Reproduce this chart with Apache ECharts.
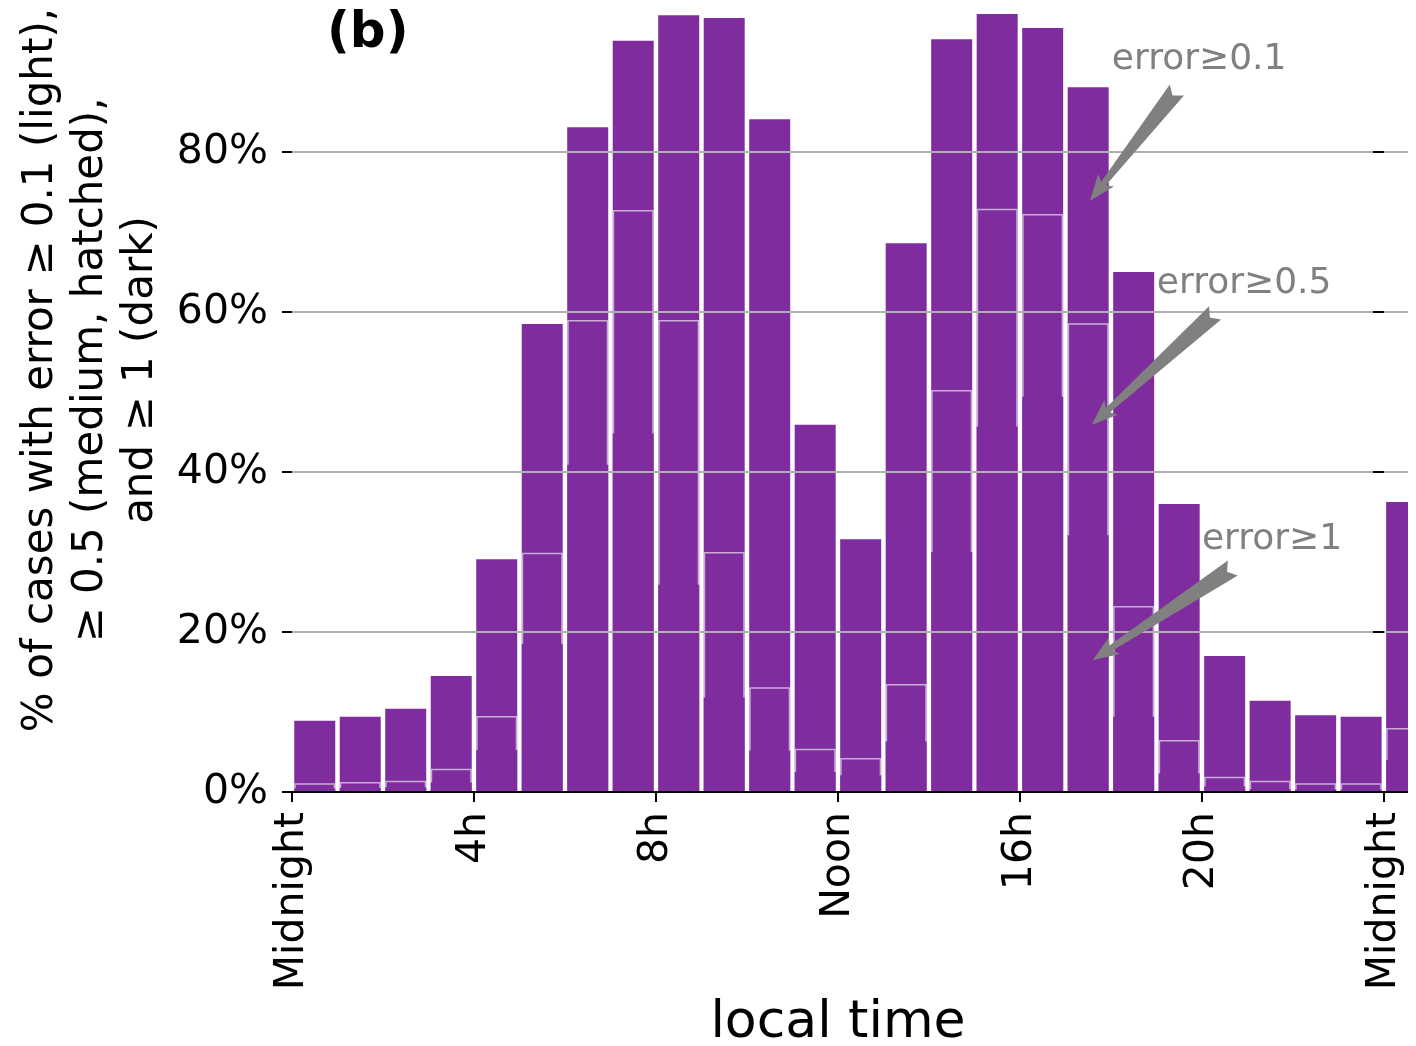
<!DOCTYPE html>
<html>
<head>
<meta charset="utf-8">
<script src="https://cdn.jsdelivr.net/npm/echarts@6/dist/echarts.min.js"></script>
<style>
  html, body { margin: 0; padding: 0; background: #fff; }
  #main { width: 1408px; height: 1046px; }
</style>
</head>
<body>
<div id="main"></div>
<script>
// hour slots (bar centres) and share of cases per error threshold, in %
const hours = [0.5, 1.5, 2.5, 3.5, 4.5, 5.5, 6.5, 7.5, 8.5, 9.5, 10.5, 11.5,
  12.5, 13.5, 14.5, 15.5, 16.5, 17.5, 18.5, 19.5, 20.5, 21.5, 22.5, 23.5, 24.5]
const light = [8.9, 9.4, 10.4, 14.5, 29.1, 58.5, 83.1, 93.9, 97.1, 96.75, 84.1, 45.9,
  31.6, 68.6, 94.1, 97.25, 95.5, 88.1, 65.0, 36.0, 17.0, 11.4, 9.6, 9.4, 36.25]
const medium = [1.1, 1.25, 1.4, 2.9, 9.5, 29.9, 59.0, 72.75, 59.0, 30.0, 13.1, 5.4,
  4.25, 13.5, 50.25, 72.9, 72.25, 58.6, 23.25, 6.5, 1.9, 1.4, 1.1, 1.1, 8.0]
const dark = [0.45, 0.5, 0.6, 1.2, 5.25, 18.5, 40.9, 44.8, 25.9, 11.8, 5.2, 2.5,
  2.1, 6.3, 30.0, 45.7, 49.4, 32.1, 9.4, 2.3, 0.7, 0.35, 0.3, 0.3, 4.0]
const xTicks = [0, 4, 8, 12, 16, 20, 24]
const xTickNames = { 0: 'Midnight', 4: '4h', 8: '8h', 12: 'Noon', 16: '16h', 20: '20h', 24: 'Midnight' }
const yTicks = [0, 20, 40, 60, 80]

// annotations: text anchor and arrow tail -> tip, in data coordinates
const notes = [
  { text: 'error≥0.1', at: [18.02, 91.5], tail: [19.45, 87.75], tip: [17.54, 73.9] },
  { text: 'error≥0.5', at: [19.01, 63.5], tail: [20.29, 59.9], tip: [17.58, 45.9] },
  { text: 'error≥1', at: [20.0, 31.5], tail: [20.68, 28.0], tip: [17.6, 16.5] }
]

const FONT = 'DejaVu Sans'
const PURPLE = '#7e2c9e'

function pairs(vals) {
  return vals.map((v, i) => [hours[i], v])
}

var myChart = echarts.init(document.getElementById('main'))

const options = {
  animation: false,
  backgroundColor: '#ffffff',
  grid: { left: 292, right: 0, top: -8, height: 800, outerBoundsMode: 'none' },
  xAxis: {
    type: 'value',
    min: 0,
    max: 24.53,
    z: 10,
    splitLine: { show: false },
    axisLine: { show: true, lineStyle: { color: '#000', width: 2 } },
    axisTick: { show: true, length: 10, lineStyle: { color: '#000', width: 2 }, customValues: xTicks },
    axisLabel: {
      customValues: xTicks,
      rotate: 90,
      margin: 20,
      color: '#000',
      fontFamily: FONT,
      fontSize: 41,
      formatter: v => xTickNames[v] || ''
    }
  },
  yAxis: [
    {
      type: 'value',
      min: 0,
      max: 100,
      interval: 20,
      z: 10,
      axisLine: { show: false },
      axisTick: { show: true, length: 10, lineStyle: { color: '#000', width: 2 } },
      splitLine: { show: true, lineStyle: { color: '#b0b0b0', width: 2 } },
      axisLabel: {
        margin: 24,
        color: '#000',
        fontFamily: FONT,
        fontSize: 41,
        formatter: v => (yTicks.indexOf(v) >= 0 ? v + '%' : '')
      }
    },
    {
      type: 'value',
      position: 'right',
      offset: -24,
      min: 0,
      max: 100,
      interval: 20,
      z: 10,
      axisLine: { show: false },
      axisTick: { show: true, inside: true, length: 11, lineStyle: { color: '#000', width: 2 } },
      splitLine: { show: false },
      axisLabel: { show: false }
    }
  ],
  series: [
    {
      name: 'error≥0.1',
      type: 'bar',
      data: pairs(light),
      barWidth: 41,
      barGap: '-100%',
      z: 2,
      itemStyle: { color: PURPLE }
    },
    {
      name: 'error≥0.5',
      type: 'bar',
      data: pairs(medium),
      barWidth: 41,
      barGap: '-100%',
      z: 3,
      itemStyle: { color: PURPLE, borderColor: 'rgba(255,255,255,0.6)', borderWidth: 1.5 }
    },
    {
      name: 'error≥1',
      type: 'bar',
      data: pairs(dark),
      barWidth: 41,
      barGap: '-100%',
      z: 4,
      itemStyle: { color: PURPLE }
    }
  ]
}

myChart.setOption(options)

// fancy arrow polygon from tail to tip (pixel coords)
function arrowShape(a, b) {
  const dx = b[0] - a[0], dy = b[1] - a[1]
  const len = Math.sqrt(dx * dx + dy * dy)
  const ux = dx / len, uy = dy / len
  const nx = -uy, ny = ux
  const at = (d, w) => [a[0] + ux * d + nx * w, a[1] + uy * d + ny * w]
  const hl = 22
  return [
    at(0, 9), at(7, 0), at(0, -9),
    at(len - hl, -3), at(len - hl - 4, -10),
    [b[0], b[1]],
    at(len - hl - 4, 10), at(len - hl, 3)
  ]
}

const graphics = []
notes.forEach(n => {
  const p = myChart.convertToPixel({ gridIndex: 0 }, n.at)
  const t0 = myChart.convertToPixel({ gridIndex: 0 }, n.tail)
  const t1 = myChart.convertToPixel({ gridIndex: 0 }, n.tip)
  graphics.push({
    type: 'polygon',
    z: 20,
    shape: { points: arrowShape(t0, t1) },
    style: { fill: '#808080' }
  })
  graphics.push({
    type: 'text',
    z: 20,
    x: p[0],
    y: p[1],
    style: { text: n.text, fill: '#808080', font: '36px "DejaVu Sans"', textAlign: 'left', textVerticalAlign: 'middle' }
  })
})

graphics.push({
  type: 'text',
  x: 327,
  y: 34,
  style: { text: '(b)', fill: '#000', font: 'bold 50px "DejaVu Sans"', textAlign: 'left', textVerticalAlign: 'middle' }
})
graphics.push({
  type: 'text',
  x: 838,
  y: 1023,
  style: { text: 'local time', fill: '#000', font: '52px "DejaVu Sans"', textAlign: 'center', textVerticalAlign: 'middle' }
})
graphics.push({
  type: 'text',
  x: 91,
  y: 370,
  rotation: Math.PI / 2,
  style: {
    text: '% of cases with error ≥ 0.1 (light),\n≥ 0.5 (medium, hatched),\nand ≥ 1 (dark)',
    fill: '#000',
    font: '42px "DejaVu Sans"',
    lineHeight: 50,
    textAlign: 'center',
    textVerticalAlign: 'middle'
  }
})

myChart.setOption({ graphic: graphics })
</script>
</body>
</html>
